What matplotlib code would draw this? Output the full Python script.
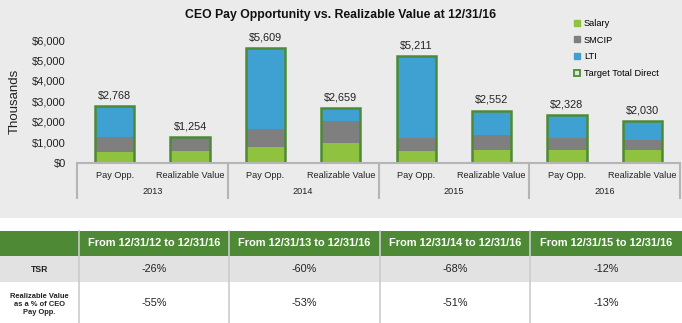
import matplotlib
matplotlib.use('Agg')
import matplotlib.pyplot as plt
from matplotlib.patches import Rectangle
from matplotlib.lines import Line2D
import numpy as np

plt.rcParams['font.family'] = ['Liberation Sans', 'DejaVu Sans']

# chart data (thousands)
years = ['2013', '2014', '2015', '2016']
kinds = ['Pay Opp.', 'Realizable Value']
salary = [500, 570, 780, 980, 590, 620, 620, 620]
smcip = [740, 684, 880, 1040, 600, 720, 570, 490]
lti = [1528, 0, 3949, 639, 4021, 1212, 1138, 920]
totals = [2768, 1254, 5609, 2659, 5211, 2552, 2328, 2030]
yticks = [0, 1000, 2000, 3000, 4000, 5000, 6000]

# table data
periods = ['From 12/31/12 to 12/31/16', 'From 12/31/13 to 12/31/16',
           'From 12/31/14 to 12/31/16', 'From 12/31/15 to 12/31/16']
row_names = ['TSR', 'Realizable Value\nas a % of CEO\nPay Opp.']
tsr = ['-26%', '-60%', '-68%', '-12%']
rv_pct = ['-55%', '-53%', '-51%', '-13%']

c_salary = '#8fc23f'
c_smcip = '#7f7f7f'
c_lti = '#3fa0d2'
c_green = '#4e8a35'
c_bg = '#ebebeb'
c_axis = '#b5b5b5'

W, H = 682, 323
fig = plt.figure(figsize=(W / 100, H / 100), dpi=100)
fig.patch.set_facecolor('white')

# overlay axes in pixel coordinates for background + table
tax = fig.add_axes([0, 0, 1, 1], zorder=0)
tax.set_xlim(0, W)
tax.set_ylim(H, 0)
tax.axis('off')
tax.add_patch(Rectangle((0, 0), W, 218, color=c_bg, lw=0))

# ---- bar chart ----
ax = fig.add_axes([77 / W, 1 - 162.7 / H, 603 / W, 122.7 / H], zorder=2)
ax.set_facecolor('none')
x = np.arange(len(totals))
bw = 0.52
s = np.array(salary)
m = np.array(smcip)
l = np.array(lti)
ax.bar(x, s, bw, color=c_salary, lw=0)
ax.bar(x, m, bw, bottom=s, color=c_smcip, lw=0)
ax.bar(x, l, bw, bottom=s + m, color=c_lti, lw=0)
ax.bar(x, totals, bw, fill=False, edgecolor=c_green, lw=1.8)
for xi, t in zip(x, totals):
    ax.annotate(f'${t:,}', (xi, t), xytext=(0, 4), textcoords='offset points',
                ha='center', va='bottom', fontsize=7.8, color='#222222')

ax.set_xlim(-0.5, len(totals) - 0.5)
ax.set_ylim(0, 6000)
ax.set_yticks(yticks)
ax.set_yticklabels([f'${v:,}' for v in yticks], fontsize=8, color='#222222')
ax.tick_params(axis='y', length=0, pad=8)
ax.set_xticks([])
for sp in ['top', 'right', 'left']:
    ax.spines[sp].set_visible(False)
ax.spines['bottom'].set_color(c_axis)
ax.spines['bottom'].set_linewidth(1.5)
ax.set_ylabel('Thousands', fontsize=9.5, color='#222222', labelpad=8)

tr = ax.get_xaxis_transform()
for i, yr in enumerate(years):
    for j, k in enumerate(kinds):
        ax.text(2 * i + j, -0.105, k, transform=tr, ha='center', va='center',
                fontsize=6.6, color='#222222')
    ax.text(2 * i + 0.5, -0.235, yr, transform=tr, ha='center', va='center',
            fontsize=6.6, color='#222222')
for b in np.arange(-0.5, len(totals), 2):
    ax.plot([b, b], [0, -0.285], transform=tr, color=c_axis, lw=1.5,
            clip_on=False)

handles = [
    Line2D([], [], marker='s', ls='none', color=c_salary, markersize=4.3),
    Line2D([], [], marker='s', ls='none', color=c_smcip, markersize=4.3),
    Line2D([], [], marker='s', ls='none', color=c_lti, markersize=4.3),
    Line2D([], [], marker='s', ls='none', markerfacecolor='#d8ead0',
           markeredgecolor=c_green, markeredgewidth=1.3, markersize=4.3),
]
fig.legend(handles, ['Salary', 'SMCIP', 'LTI', 'Target Total Direct'],
           loc='upper left', bbox_to_anchor=(574 / W, 1 - 19 / H),
           frameon=False, fontsize=6.7, handlelength=0.7, handletextpad=0.35,
           labelspacing=0.82, borderpad=0, borderaxespad=0)

fig.text(341 / W, 1 - 15 / H,
         'CEO Pay Opportunity vs. Realizable Value at 12/31/16',
         ha='center', va='center', fontsize=8.8, fontweight='bold',
         color='#111111')

# ---- table ----
col_edges = [0, 79, 229, 380, 530, W]
row_edges = [231, 256, 282, H]
tax.add_patch(Rectangle((0, row_edges[0]), W, row_edges[1] - row_edges[0],
                        color=c_green, lw=0))
tax.add_patch(Rectangle((0, row_edges[1]), W, row_edges[2] - row_edges[1],
                        color='#e2e2e2', lw=0))
for e in col_edges[1:-1]:
    tax.plot([e, e], [row_edges[0], H], color='#cccccc', lw=1.2)

centers = [(a + b) / 2 for a, b in zip(col_edges[:-1], col_edges[1:])]
rmid = [(a + b) / 2 for a, b in zip(row_edges[:-1], row_edges[1:])]
label_sizes = [6.2, 5.4]
label_y = [rmid[1] + 1, rmid[2] + 2]
for cx, p in zip(centers[1:], periods):
    tax.text(cx, rmid[0], p, ha='center', va='center', color='white',
             fontsize=7.9, fontweight='bold')
for r, (name, vals) in enumerate(zip(row_names, [tsr, rv_pct])):
    tax.text(centers[0], label_y[r], name, ha='center', va='center',
             fontsize=label_sizes[r], fontweight='bold', color='#222222',
             linespacing=1.25)
    for cx, v in zip(centers[1:], vals):
        tax.text(cx, rmid[r + 1], v, ha='center', va='center',
                 fontsize=7.8, color='#222222')

fig.savefig('out.png', dpi=100)
